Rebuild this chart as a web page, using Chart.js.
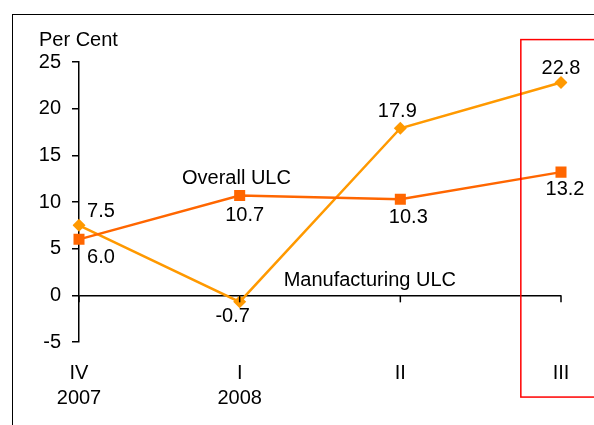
<!DOCTYPE html>
<html>
<head>
<meta charset="utf-8">
<script src="https://cdn.jsdelivr.net/npm/chart.js@4"></script>
<style>
  html, body { margin: 0; padding: 0; background: #fff; }
  #moldura {
    position: absolute; left: 12px; top: 14px;
    width: 582px; height: 411px;
    border-left: 1.5px solid #000; border-top: 1.5px solid #000;
  }
  #wrap { position: absolute; left: 0; top: 0; width: 582px; height: 411px; }
</style>
</head>
<body>
<div id="moldura"><div id="wrap"><canvas id="grafico"></canvas></div></div>
<script>
// dados
const trimestres = [['IV', '2007'], ['I', '2008'], ['II', ''], ['III', '']];
const ulcGeral = [6.0, 10.7, 10.3, 13.2];
const ulcIndustria = [7.5, -0.7, 17.9, 22.8];
const ticksY = [-5, 0, 5, 10, 15, 20, 25];

const corGeral = '#FF6600';
const corIndustria = '#FF9900';
const fonte = 'Liberation Sans, Arial, sans-serif';

// deslocamento dos rótulos de valor (px) em relação ao ponto
const posRotulos = {
    0: [[22, 18], [5, 20], [8, 18], [4, 17]],
    1: [[22, -14], [-7, 15], [-3, -17], [0, -14]]
};

const plugAnotacoes = {
    id: 'anotacoes',
    afterDatasetsDraw(chart) {
        const ctx = chart.ctx;
        const sx = chart.scales.x, sy = chart.scales.y;
        const y0 = sy.getPixelForValue(0);

        // marcas dos trimestres no eixo zero
        ctx.save();
        ctx.strokeStyle = '#000';
        ctx.lineWidth = 1.5;
        trimestres.forEach((t, i) => {
            const x = sx.getPixelForValue(i);
            ctx.beginPath();
            ctx.moveTo(x, y0);
            ctx.lineTo(x, y0 + 7);
            ctx.stroke();
        });

        // rótulos de valores
        ctx.fillStyle = '#000';
        ctx.font = '20px ' + fonte;
        ctx.textAlign = 'center';
        ctx.textBaseline = 'middle';
        chart.data.datasets.forEach((ds, d) => {
            const meta = chart.getDatasetMeta(d);
            meta.data.forEach((pt, i) => {
                const off = posRotulos[d][i];
                ctx.fillText(ds.data[i].toFixed(1), pt.x + off[0], pt.y + off[1]);
            });
        });

        // nomes das séries
        ctx.fillText('Overall ULC', sx.getPixelForValue(0.98), sy.getPixelForValue(12.5));
        ctx.fillText('Manufacturing ULC', sx.getPixelForValue(1.81), sy.getPixelForValue(1.6));

        // caixa vermelha em volta do último trimestre
        const passo = sx.getPixelForValue(1) - sx.getPixelForValue(0);
        const esq = sx.getPixelForValue(3) - passo * 0.25;
        const topo = sy.getPixelForValue(27.4);
        const base = sy.getPixelForValue(-10.9);
        ctx.strokeStyle = '#FF0000';
        ctx.lineWidth = 1.5;
        ctx.strokeRect(esq, topo, chart.width + 10 - esq, base - topo);
        ctx.restore();
    }
};

new Chart(document.getElementById('grafico'), {
    type: 'line',
    data: {
        labels: trimestres,
        datasets: [{
            label: 'Overall ULC',
            data: ulcGeral,
            borderColor: corGeral,
            backgroundColor: corGeral,
            borderWidth: 2.5,
            pointStyle: 'rect',
            pointRadius: 7.8,
            pointHoverRadius: 7.8,
            pointBorderWidth: 0
        }, {
            label: 'Manufacturing ULC',
            data: ulcIndustria,
            borderColor: corIndustria,
            backgroundColor: corIndustria,
            borderWidth: 2.5,
            pointStyle: 'rectRot',
            pointRadius: 6.5,
            pointHoverRadius: 6.5,
            pointBorderWidth: 0
        }]
    },
    options: {
        responsive: true,
        maintainAspectRatio: false,
        animation: false,
        layout: { padding: { left: 26, right: 34, top: 0, bottom: 0 } },
        plugins: {
            legend: { display: false },
            tooltip: { enabled: false },
            title: {
                display: true,
                text: 'Per Cent',
                align: 'start',
                color: '#000',
                font: { family: fonte, size: 20, weight: 'normal' },
                padding: { top: 13, bottom: 10 }
            }
        },
        scales: {
            x: {
                offset: false,
                grid: { display: false, drawTicks: false },
                border: { display: false },
                ticks: {
                    color: '#000',
                    padding: 19,
                    autoSkip: false,
                    maxRotation: 0,
                    font: { family: fonte, size: 20, lineHeight: 1.25 }
                },
                afterFit(scale) { scale.height = 84; }
            },
            y: {
                min: -5,
                max: 25,
                afterBuildTicks(scale) { scale.ticks = ticksY.map(v => ({ value: v })); },
                grid: {
                    color: c => (c.tick && c.tick.value === 0) ? '#000' : 'rgba(0,0,0,0)',
                    lineWidth: 1.5,
                    tickColor: '#000',
                    tickLength: 7
                },
                border: { display: true, color: '#000', width: 1.5 },
                ticks: {
                    color: '#000',
                    padding: 11,
                    font: { family: fonte, size: 20 }
                },
                afterFit(scale) { scale.width = 40; }
            }
        }
    },
    plugins: [plugAnotacoes]
});
</script>
</body>
</html>
